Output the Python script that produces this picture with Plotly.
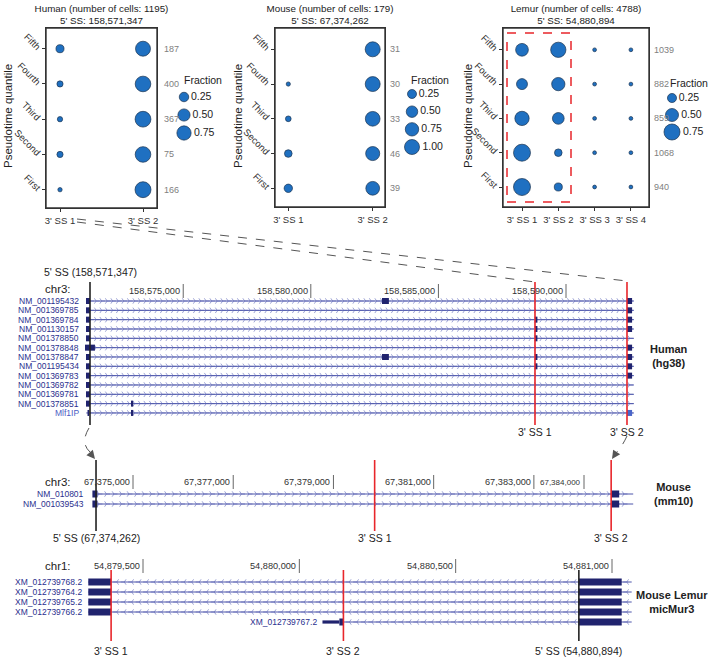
import numpy as np
import plotly.graph_objects as go

W, H = 709, 666
FONT = "Liberation Sans, Arial, Helvetica, sans-serif"


def px_x(px):
    return px / W


def px_y(py):
    return 1 - py / H


# ------------------------------------------------------------------ data
quantiles = ["First", "Second", "Third", "Fourth", "Fifth"]

human_sites = ["3' SS 1", "3' SS 2"]
human_ss1 = [0.01, 0.06, 0.03, 0.06, 0.15]
human_ss2 = [0.99, 0.94, 0.97, 0.94, 0.85]
human_cells = [166, 75, 367, 400, 187]
human_title = ["Human (number of cells: 1195)", "5' SS: 158,571,347"]

mouse_sites = ["3' SS 1", "3' SS 2"]
mouse_ss1 = [0.20, 0.15, 0.05, 0.01, 0.00]
mouse_ss2 = [0.80, 0.85, 0.95, 0.99, 1.00]
mouse_cells = [39, 46, 33, 30, 31]
mouse_title = ["Mouse (number of cells: 179)", "5' SS: 67,374,262"]

lemur_sites = ["3' SS 1", "3' SS 2", "3' SS 3", "3' SS 4"]
lemur_ss1 = [0.84, 0.84, 0.60, 0.36, 0.48]
lemur_ss2 = [0.20, 0.18, 0.41, 0.52, 0.68]
lemur_ss3 = [0.05, 0.05, 0.05, 0.05, 0.05]
lemur_ss4 = [0.05, 0.05, 0.05, 0.05, 0.05]
lemur_cells = [940, 1068, 859, 882, 1039]
lemur_title = ["Lemur (number of cells: 4788)", "5' SS: 54,880,894"]

human_legend = [0.25, 0.50, 0.75]
mouse_legend = [0.25, 0.50, 0.75, 1.00]
lemur_legend = [0.25, 0.50, 0.75]

# genome browser: human hg38 chr3
human_5ss = 158571347
human_3ss = [158588785, 158592390]
human_ticks = [158575000, 158580000, 158585000, 158590000]
human_tx = ["NM_001195432", "NM_001369785", "NM_001369784", "NM_001130157",
            "NM_001378850", "NM_001378848", "NM_001378847", "NM_001195434",
            "NM_001369783", "NM_001369782", "NM_001369781", "NM_001378851", "Mlf1IP"]
human_tx_start = [158571200] * 13
human_tx_end = [158592660] * 13
human_exon_row = [0, 1, 2, 3, 4, 5, 6, 7, 8, 9, 10, 11, 12,
                  0, 6,
                  2, 3, 4, 6, 7,
                  0, 1, 2, 3, 5, 6, 7, 8, 12,
                  11, 12]
human_exon_start = [158571190] * 5 + [158571150] + [158571190] * 6 + [158571250] + \
    [158582790] * 2 + [158588785] * 5 + [158592390] * 9 + [158572954] * 2
human_exon_end = [158571347] * 5 + [158571540] + [158571347] * 6 + [158571310] + \
    [158583060] * 2 + [158588880] * 5 + [158592590] * 9 + [158573040] * 2

# mouse mm10 chr3
mouse_5ss = 67374262
mouse_3ss = [67379822, 67384542]
mouse_ticks = [67375000, 67377000, 67379000, 67381000, 67383000, 67384000]
mouse_tx = ["NM_010801", "NM_001039543"]
mouse_tx_start = [67374200, 67374200]
mouse_tx_end = [67384982, 67384982]
mouse_exon_row = [0, 1, 0, 1]
mouse_exon_start = [67374190, 67374190, 67384542, 67384542]
mouse_exon_end = [67374290, 67374290, 67384702, 67384702]

# mouse lemur micMur3 chr1
lemur_5ss = 54880894
lemur_3ss = [54879398, 54880141]
lemur_ticks = [54879500, 54880000, 54880500, 54881000]
lemur_tx = ["XM_012739768.2", "XM_012739764.2", "XM_012739765.2", "XM_012739766.2",
            "XM_012739767.2"]
lemur_tx_start = [54879325, 54879325, 54879325, 54879325, 54880141]
lemur_tx_end = [54881063] * 5
lemur_exon_row = [0, 1, 2, 3, 0, 1, 2, 3, 4, 4]
lemur_exon_start = [54879325] * 4 + [54880894] * 5 + [54880128]
lemur_exon_end = [54879398] * 4 + [54881031] * 5 + [54880141]
lemur_utr_row = [4]
lemur_utr_start = [54880074]
lemur_utr_end = [54880128]

# ------------------------------------------------------------------ styles
BLUE = "#1f70c1"
EDGE = "#1b3350"
NAVY = "#20236e"
TXT_NAVY = "#2b2f8e"
INTRON = "#4c55ab"
CHEV = "#939ad0"
RED = "#e8262b"
GREY = "#555555"
FRAME = "#333333"

fig = go.Figure()


def ann(**kw):
    kw.setdefault("showarrow", False)
    kw.setdefault("xanchor", "center")
    kw.setdefault("yanchor", "middle")
    return kw


def bubble_px(values, a, b):
    return [max(a + b * np.sqrt(v), 2.0) if v > 0 else 0 for v in values]


def add_bubbles(sites, series, n, a, b):
    for site, vals in zip(sites, series):
        fig.add_trace(go.Scatter(
            x=[site] * len(quantiles), y=quantiles, mode="markers",
            marker=dict(size=bubble_px(vals, a, b), color=BLUE, opacity=1,
                        line=dict(color=EDGE, width=0.7)),
            xaxis=f"x{n}", yaxis=f"y{n}", showlegend=False, hoverinfo="skip",
            cliponaxis=False))


def add_legend(vals, n, a, b):
    fig.add_trace(go.Scatter(
        x=[0] * len(vals), y=list(range(len(vals))), mode="markers+text",
        text=[f"{v:.2f}" for v in vals], textposition="middle right",
        textfont=dict(size=10.5, color="#222", family=FONT),
        marker=dict(size=bubble_px(vals, a, b), color=BLUE, opacity=1,
                    line=dict(color=EDGE, width=0.7)),
        xaxis=f"x{n}", yaxis=f"y{n}", showlegend=False, hoverinfo="skip", cliponaxis=False))


panels = [
    dict(n="", sites=human_sites, series=[human_ss1, human_ss2], cells=human_cells, title=human_title,
         a=3.0, b=13.0, box=(46, 157, 28, 208), x0=60, xs=83, y0=189.7, ys=35.25,
         leg=human_legend, leg_n="4", leg_cx=184, leg_y=(97, 133), leg_t=(203, 80),
         cshift=5, ytx=8),
    dict(n="2", sites=mouse_sites, series=[mouse_ss1, mouse_ss2], cells=mouse_cells, title=mouse_title,
         a=3.0, b=12.0, box=(275, 385, 28, 207), x0=288.3, xs=84.4, y0=188.3, ys=34.75,
         leg=mouse_legend, leg_n="5", leg_cx=412, leg_y=(94, 147), leg_t=(430, 80),
         cshift=3, ytx=238),
    dict(n="3", sites=lemur_sites, series=[lemur_ss1, lemur_ss2, lemur_ss3, lemur_ss4], cells=lemur_cells,
         title=lemur_title, a=-0.5, b=19.1, box=(503, 649, 28, 207), x0=522, xs=36.3, y0=187, ys=34.3,
         leg=lemur_legend, leg_n="6", leg_cx=672, leg_y=(98, 132), leg_t=(689, 83),
         cshift=3, ytx=468),
]

annotations = []
shapes = []
layout_axes = {}

# full-page overlay axis (pixel units) used for panel titles
layout_axes["xaxis10"] = dict(domain=[0, 1], range=[0, W], anchor="y10", visible=False,
                              fixedrange=True)
layout_axes["yaxis10"] = dict(domain=[0, 1], range=[H, 0], anchor="x10", visible=False,
                              fixedrange=True)
title_x, title_y, title_txt = [], [], []

for p in panels:
    n = p["n"]
    add_bubbles(p["sites"], p["series"], n, p["a"], p["b"])
    add_legend(p["leg"], p["leg_n"], p["a"], p["b"])
    l, r, t, b = p["box"]
    layout_axes[f"xaxis{n}"] = dict(
        domain=[px_x(l), px_x(r)], anchor=f"y{n}", type="category",
        categoryorder="array", categoryarray=p["sites"],
        range=[(l - p["x0"]) / p["xs"], (r - p["x0"]) / p["xs"]],
        showline=True, mirror=True, linecolor=FRAME, linewidth=1.4,
        ticks="outside", ticklen=3, tickcolor=FRAME, tickwidth=1, showgrid=False,
        zeroline=False, tickfont=dict(size=9.5, color="#333333", family=FONT), fixedrange=True)
    layout_axes[f"yaxis{n}"] = dict(
        domain=[px_y(b), px_y(t)], anchor=f"x{n}", type="category",
        categoryorder="array", categoryarray=quantiles,
        range=[(p["y0"] - b) / p["ys"], (p["y0"] - t) / p["ys"]],
        showline=True, mirror=True, linecolor=FRAME, linewidth=1.4,
        ticks="outside", ticklen=3, tickcolor=FRAME, tickwidth=1, showgrid=False,
        zeroline=False, tickangle=45, tickfont=dict(size=9.5, color="#333333", family=FONT),
        fixedrange=True)
    shapes.append(dict(type="rect", xref=f"x{n} domain", yref=f"y{n} domain", x0=0, x1=1,
                       y0=0, y1=1, line=dict(color=FRAME, width=1.4), layer="above"))
    ln = p["leg_n"]
    cx = p["leg_cx"]
    y_first, y_last = p["leg_y"]
    layout_axes[f"xaxis{ln}"] = dict(domain=[px_x(cx - 5), px_x(cx + 5)], range=[-1, 1],
                                     anchor=f"y{ln}", visible=False, fixedrange=True)
    layout_axes[f"yaxis{ln}"] = dict(domain=[px_y(y_last), px_y(y_first)],
                                     range=[len(p["leg"]) - 1, 0],
                                     anchor=f"x{ln}", visible=False, fixedrange=True)
    annotations.append(ann(text="Fraction", x=px_x(p["leg_t"][0]), y=px_y(p["leg_t"][1]),
                           xref="paper", yref="paper",
                           font=dict(size=10.5, color="#222", family=FONT)))
    for q, c in zip(quantiles, p["cells"]):
        annotations.append(ann(text=str(c), x=1, xref=f"x{n} domain", y=q, yref=f"y{n}",
                               xanchor="left", xshift=p["cshift"],
                               font=dict(size=9, color="#808080", family=FONT)))
    for k, line in enumerate(p["title"]):
        title_x.append((l + r) / 2)
        title_y.append(9.5 + 12 * k)
        title_txt.append(line)
    annotations.append(ann(text="Pseudotime quantile", x=px_x(p["ytx"]), y=px_y(116),
                           xref="paper", yref="paper", textangle=-90,
                           font=dict(size=11.5, color="#222", family=FONT)))

fig.add_trace(go.Scatter(x=title_x, y=title_y, text=title_txt, mode="text",
                         textposition="middle center",
                         textfont=dict(size=9.8, color="#222", family=FONT),
                         xaxis="x10", yaxis="y10", showlegend=False, hoverinfo="skip",
                         cliponaxis=False))

shapes.append(dict(type="rect", xref="paper", yref="paper", x0=px_x(507), x1=px_x(571),
                   y0=px_y(202), y1=px_y(33), line=dict(color=RED, width=1.5, dash="dash")))


# ------------------------------------------------------------------ genome tracks
def lin_range(px_a, g_a, px_b, g_b):
    slope = (px_b - px_a) / (g_b - g_a)
    return [g_a - px_a / slope, g_a + (W - px_a) / slope], slope


tracks = [
    dict(n="7", tx=human_tx, s=human_tx_start, e=human_tx_end, er=human_exon_row,
         es=human_exon_start, ee=human_exon_end, ss5=human_5ss, ss3=human_3ss, ticks=human_ticks,
         calib=(90, human_5ss, 566, 158590000), row0=301, step=9.33, top=282, bot=425,
         tick_py=291, lab_r=81, ss_py=432, ss5_py=272, chr="chr3:", chr_py=289,
         strand="+", chev_px=5.5, ex_h=6, species="<b>Human<br>(hg38)</b>", sp=(669, 356)),
    dict(n="8", tx=mouse_tx, s=mouse_tx_start, e=mouse_tx_end, er=mouse_exon_row,
         es=mouse_exon_start, ee=mouse_exon_end, ss5=mouse_5ss, ss3=mouse_3ss, ticks=mouse_ticks,
         calib=(133, 67375000, 584, 67384000), row0=494, step=10, top=460, bot=531,
         tick_py=482, lab_r=86, ss_py=538, ss5_py=538, chr="chr3:", chr_py=482,
         strand="+", chev_px=7.5, ex_h=7, species="<b>Mouse<br>(mm10)</b>", sp=(673, 494)),
    dict(n="9", tx=lemur_tx, s=lemur_tx_start, e=lemur_tx_end, er=lemur_exon_row,
         es=lemur_exon_start, ee=lemur_exon_end, ss5=lemur_5ss, ss3=lemur_3ss, ticks=lemur_ticks,
         calib=(143, 54879500, 612, 54881000), row0=582, step=10, top=570, bot=641,
         tick_py=566, lab_r=84, ss_py=651, ss5_py=651, chr="chr1:", chr_py=566,
         strand="-", chev_px=7.5, ex_h=7, species="<b>Mouse Lemur<br>micMur3</b>", sp=(672, 602)),
]

for tr in tracks:
    n = tr["n"]
    rng, slope = lin_range(*tr["calib"])
    layout_axes[f"xaxis{n}"] = dict(domain=[0, 1], range=rng, anchor=f"y{n}", visible=False,
                                    fixedrange=True)
    layout_axes[f"yaxis{n}"] = dict(domain=[px_y(tr["bot"]), px_y(tr["top"])],
                                    range=[(tr["bot"] - tr["row0"]) / tr["step"],
                                           (tr["top"] - tr["row0"]) / tr["step"]],
                                    anchor=f"x{n}", visible=False, fixedrange=True)
    lx, ly, cxs, cys = [], [], [], []
    chev_bp = tr["chev_px"] / slope
    for i, (s, e) in enumerate(zip(tr["s"], tr["e"])):
        lx += [s, e, None]
        ly += [i, i, None]
        pos = np.arange(s + chev_bp * 0.8, e - chev_bp * 0.3, chev_bp)
        cxs += list(pos)
        cys += [i] * len(pos)
    fig.add_trace(go.Scatter(x=cxs, y=cys, mode="markers",
                             marker=dict(symbol="y-right" if tr["strand"] == "+" else "y-left",
                                         size=4.5, color=CHEV, line=dict(color=CHEV, width=0.9)),
                             xaxis=f"x{n}", yaxis=f"y{n}", showlegend=False, hoverinfo="skip"))
    fig.add_trace(go.Scatter(x=lx, y=ly, mode="lines", line=dict(color=INTRON, width=1),
                             xaxis=f"x{n}", yaxis=f"y{n}", showlegend=False, hoverinfo="skip"))
    half = tr["ex_h"] / 2 / tr["step"]
    for row, s, e in zip(tr["er"], tr["es"], tr["ee"]):
        col = "#4a66c9" if (n == "7" and tr["tx"][row] == "Mlf1IP" and s > tr["ss3"][0]) else NAVY
        shapes.append(dict(type="rect", xref=f"x{n}", yref=f"y{n}", x0=s, x1=e,
                           y0=row - half, y1=row + half, fillcolor=col, line=dict(width=0),
                           layer="above"))
    if n == "9":
        for row, s, e in zip(lemur_utr_row, lemur_utr_start, lemur_utr_end):
            shapes.append(dict(type="rect", xref=f"x{n}", yref=f"y{n}", x0=s, x1=e,
                               y0=row - 1.6 / tr["step"], y1=row + 1.6 / tr["step"],
                               fillcolor=NAVY, line=dict(width=0), layer="above"))
    for i, name in enumerate(tr["tx"]):
        if n == "9" and i == 4:
            annotations.append(ann(text=name, x=lemur_utr_start[0], xref=f"x{n}", y=i,
                                   yref=f"y{n}", xanchor="right", xshift=-3,
                                   font=dict(size=8.5, color=TXT_NAVY, family=FONT)))
        else:
            col = "#4b5cc4" if name == "Mlf1IP" else TXT_NAVY
            annotations.append(ann(text=name, x=px_x(tr["lab_r"]), xref="paper", y=i,
                                   yref=f"y{n}", xanchor="right",
                                   font=dict(size=8.5, color=col, family=FONT)))
    for tv in tr["ticks"]:
        small = (n == "8" and tv == 67384000)
        annotations.append(ann(text=f"{tv:,}", x=tv, xref=f"x{n}", y=px_y(tr["tick_py"]),
                               yref="paper", xanchor="right", xshift=-1,
                               font=dict(size=8 if small else 9.2, color="#333", family=FONT)))
        shapes.append(dict(type="line", xref=f"x{n}", yref="paper", x0=tv, x1=tv,
                           y0=px_y(tr["tick_py"] + 7), y1=px_y(tr["tick_py"] - 7),
                           line=dict(color="#666", width=1)))
    annotations.append(ann(text=tr["chr"], x=px_x(43), y=px_y(tr["chr_py"]), xref="paper",
                           yref="paper", xanchor="left",
                           font=dict(size=11.5, color="#222", family=FONT)))
    shapes.append(dict(type="line", xref=f"x{n}", yref=f"y{n} domain", x0=tr["ss5"], x1=tr["ss5"],
                       y0=0, y1=1, line=dict(color="#222", width=1.6), layer="above"))
    for k, g in enumerate(tr["ss3"]):
        shapes.append(dict(type="line", xref=f"x{n}", yref=f"y{n} domain", x0=g, x1=g,
                           y0=0, y1=1, line=dict(color=RED, width=1.6), layer="above"))
        annotations.append(ann(text=f"3' SS {k + 1}", x=g, xref=f"x{n}", y=px_y(tr["ss_py"]),
                               yref="paper", font=dict(size=10.5, color="#222", family=FONT)))
    annotations.append(ann(text=f"5' SS ({tr['ss5']:,})", x=tr["ss5"], xref=f"x{n}",
                           y=px_y(tr["ss5_py"]), yref="paper",
                           font=dict(size=10.5, color="#222", family=FONT)))
    annotations.append(ann(text=tr["species"], x=px_x(tr["sp"][0]), y=px_y(tr["sp"][1]),
                           xref="paper", yref="paper",
                           font=dict(size=11, color="#222", family=FONT)))

for (x0, y0, x1, y1) in [(77, 219, 627, 281), (77, 222, 535, 282)]:
    shapes.append(dict(type="line", xref="paper", yref="paper", x0=px_x(x0), y0=px_y(y0),
                       x1=px_x(x1), y1=px_y(y1), line=dict(color=GREY, width=1, dash="dash")))


def curve(pts):
    (ax, ay), (bx, by), (cx_, cy_) = pts
    return f"M {px_x(ax)},{px_y(ay)} Q {px_x(bx)},{px_y(by)} {px_x(cx_)},{px_y(cy_)}"


shapes.append(dict(type="path", xref="paper", yref="paper",
                   path=curve([(89, 428), (80, 443), (90, 452)]),
                   line=dict(color=GREY, width=1, dash="dash")))
shapes.append(dict(type="path", xref="paper", yref="paper",
                   path=curve([(627, 436), (622, 447), (615, 454)]),
                   line=dict(color=GREY, width=1, dash="dash")))
annotations.append(dict(x=px_x(95), y=px_y(459), xref="paper", yref="paper", text="",
                        showarrow=True, ax=-5, ay=-6, arrowhead=2, arrowsize=1.4,
                        arrowwidth=1.2, arrowcolor=GREY))
annotations.append(dict(x=px_x(612), y=px_y(459), xref="paper", yref="paper", text="",
                        showarrow=True, ax=4, ay=-6, arrowhead=2, arrowsize=1.4,
                        arrowwidth=1.2, arrowcolor=GREY))

fig.update_layout(
    width=W, height=H, margin=dict(l=0, r=0, t=0, b=0, autoexpand=False),
    paper_bgcolor="white", plot_bgcolor="rgba(0,0,0,0)",
    font=dict(family=FONT, color="#222"), showlegend=False,
    annotations=annotations, shapes=shapes, **layout_axes)

fig.write_html("out.html", config={"displayModeBar": False},
               post_script="document.body.style.margin='0px';document.body.style.overflow='hidden';")
